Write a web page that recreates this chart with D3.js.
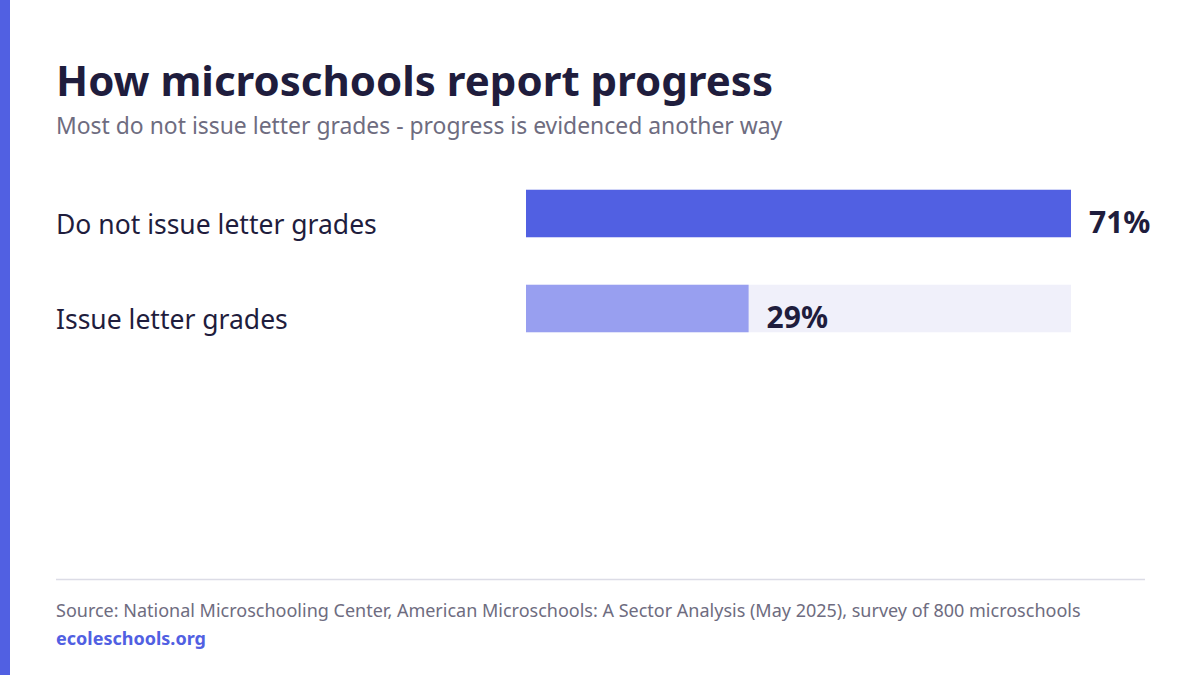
<!DOCTYPE html>
<html><head><meta charset="utf-8">
<script src="https://cdn.jsdelivr.net/npm/d3@7"></script>
<style>body{margin:0;background:#fff}svg{display:block;font-family:"Noto Sans",sans-serif}</style>
</head><body><svg id="chart" width="1200" height="675"></svg>
<script>
const categories = ["Do not issue letter grades", "Issue letter grades"];
const values = [71, 29];
const valueLabels = ["71%", "29%"];
const colors = ["#5160e2", "#989ff0"];

const svg = d3.select("#chart");
svg.append("rect").attr("x", 0).attr("y", 0).attr("width", 10).attr("height", 675).attr("fill", "#5160e2");

svg.append("text").attr("x", 56).attr("y", 96).attr("font-size", 42).attr("font-weight", 700)
  .attr("fill", "#1f1d3d").text("How microschools report progress");
svg.append("text").attr("x", 56).attr("y", 134).attr("font-size", 22.9).attr("fill", "#6e6c80")
  .text("Most do not issue letter grades - progress is evidenced another way");

const x = d3.scaleLinear().domain([0, d3.max(values)]).range([526, 1071]);
const y = d3.scaleBand().domain(categories).range([166, 356]).paddingInner(0.5).paddingOuter(0.25);
const bh = y.bandwidth();

const g = svg.append("g");
categories.forEach((c, i) => {
  const top = y(c);
  g.append("rect").attr("x", x(0)).attr("y", top).attr("width", x(71) - x(0)).attr("height", bh).attr("fill", "#f0f0fa");
  g.append("rect").attr("x", x(0)).attr("y", top).attr("width", x(values[i]) - x(0)).attr("height", bh).attr("fill", colors[i]);
  g.append("text").attr("x", 56).attr("y", top + bh / 2 + 20).attr("font-size", 26.5)
    .attr("fill", "#1f1d3d").text(c);
  g.append("text").attr("x", x(values[i]) + 18).attr("y", top + bh / 2 + 19)
    .attr("font-size", 30).attr("font-weight", 700).attr("fill", "#1f1d3d").text(valueLabels[i]);
});

svg.append("line").attr("x1", 56).attr("x2", 1145).attr("y1", 579.5).attr("y2", 579.5).attr("stroke", "#dcdce6").attr("stroke-width", 1.5);
svg.append("text").attr("x", 56).attr("y", 617).attr("font-size", 18).attr("fill", "#6e6c80")
  .text("Source: National Microschooling Center, American Microschools: A Sector Analysis (May 2025), survey of 800 microschools");
svg.append("text").attr("x", 56).attr("y", 645).attr("font-size", 18).attr("font-weight", 700).attr("fill", "#5160e2")
  .text("ecoleschools.org");
</script></body></html>
